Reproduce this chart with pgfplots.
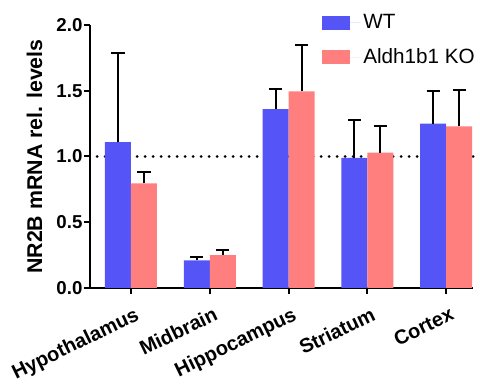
\documentclass[border=0pt]{standalone}
\usepackage{pgfplots}
\pgfplotsset{compat=1.18}
\usepackage{pgfplotstable}
\usepackage{fontspec}
\setmainfont{Liberation Sans}
\definecolor{wt}{HTML}{5555F7}
\definecolor{ko}{HTML}{FF7F7F}
\pgfplotstableread{
x wt wte ko koe
0 1.11 0.68 0.795 0.09
1 0.21 0.025 0.25 0.04
2 1.36 0.15 1.495 0.355
3 0.99 0.285 1.03 0.20
4 1.25 0.245 1.23 0.275
}\datatable
\begin{document}
\begin{tikzpicture}
\begin{axis}[
  name=ax,
  scale only axis,
  width=287.25pt, height=197.25pt,
  xmin=-0.52, xmax=4.34,
  ymin=0, ymax=2,
  axis x line*=bottom, axis y line*=left,
  axis line style={line width=1.5pt},
  every tick/.style={black, line width=1.5pt},
  tick align=outside,
  major tick length=4.5pt,
  ytick={0,0.5,1,1.5,2},
  yticklabels={0.0,0.5,1.0,1.5,2.0},
  yticklabel style={font=\fontsize{14}{16}\selectfont\bfseries, inner sep=1pt},
  xtick={0,1,2,3,4},
  xticklabels={Hypothalamus,Midbrain,Hippocampus,Striatum,Cortex},
  xticklabel style={rotate=26, anchor=north east, font=\fontsize{15}{17}\selectfont\bfseries, inner sep=1pt, yshift=-8pt, xshift=-1pt},
  ylabel={NR2B mRNA rel. levels},
  ylabel style={font=\fontsize{16}{18}\selectfont\bfseries},
  ylabel shift=6pt,
  ybar=0pt, bar width=19.5pt,
  clip=false,
  legend style={draw=none, at={(0.605,1.05)}, anchor=north west, font=\fontsize{15.5}{18}\selectfont, row sep=9.5pt, inner sep=0pt},
  legend cell align=left,
  legend image code/.code={\fill[#1] (0pt,-5.25pt) rectangle (21pt,5.25pt); \path (0pt,0pt) -- (29pt,0pt);},
  error bars/y dir=plus, error bars/y explicit,
  error bars/error bar style={line width=1.5pt, black},
  error bars/error mark options={rotate=90, mark size=4.9pt, line width=1.5pt, black},
]
\addplot[sharp plot, line width=2.2pt, dash pattern=on 0pt off 6pt, line cap=round, black, forget plot, error bars/y dir=none] coordinates {(-0.43,1) (4.42,1)};
\addplot[ybar=0pt, draw=none, fill=wt] table[x=x, y=wt, y error plus=wte] {\datatable};
\addlegendentry{WT}
\addplot[ybar=0pt, draw=none, fill=ko] table[x=x, y=ko, y error plus=koe] {\datatable};
\addlegendentry{Aldh1b1 KO}
\end{axis}
\pgfresetboundingbox
\useasboundingbox (ax.south west) ++(-67.5pt,-75pt) rectangle ++(360pt,291pt);
\end{tikzpicture}
\end{document}
